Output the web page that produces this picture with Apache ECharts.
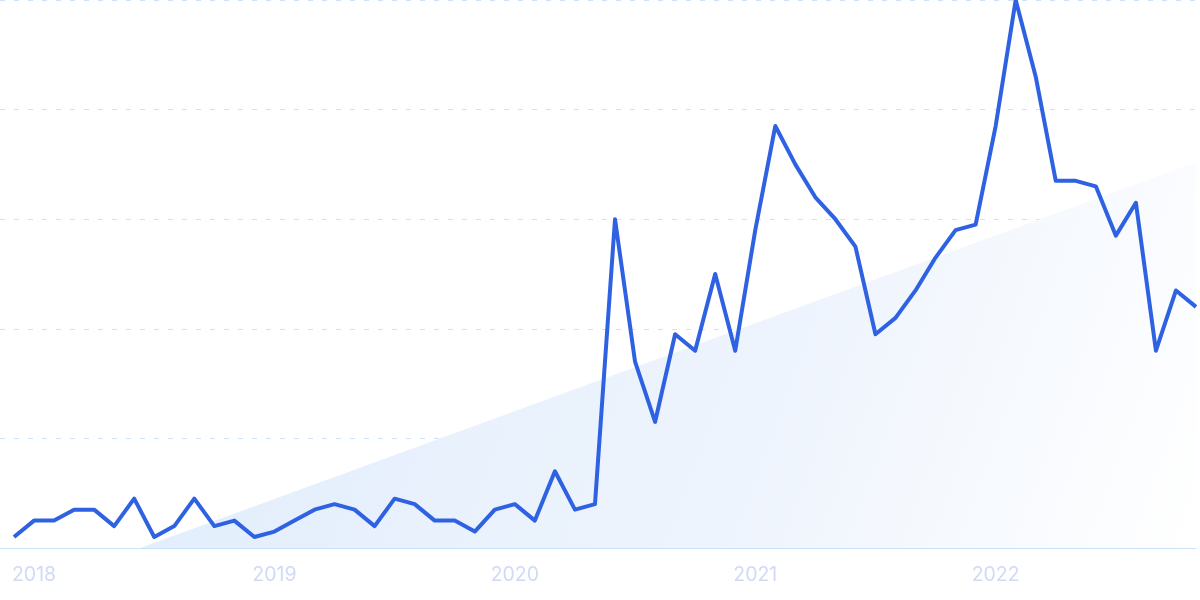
<!DOCTYPE html>
<html>
<head>
<meta charset="utf-8">
<script src="https://cdn.jsdelivr.net/npm/echarts@6/dist/echarts.min.js"></script>
<style>
html,body{margin:0;padding:0;background:#fff;}
#chart{width:1200px;height:600px;}
</style>
</head>
<body>
<div id="chart"></div>
<script>
// Monthly categories Dec 2017 .. Nov 2022
const months = [];
(function(){
  let y = 2017, m = 12;
  for (let i = 0; i < 60; i++) {
    months.push(y + '-' + String(m).padStart(2, '0'));
    m++; if (m > 12) { m = 1; y++; }
  }
})();

const interest = [
  2, 5, 5, 7, 7, 4, 9, 2, 4, 9, 4, 5,
  2, 3, 5, 7, 8, 7, 4, 9, 8, 5, 5, 3,
  7, 8, 5, 14, 7, 8, 60, 34, 23, 39, 36, 50,
  36, 58, 77, 70, 64, 60, 55, 39, 42, 47, 53, 58,
  59, 77, 100, 86, 67, 67, 66, 57, 63, 36, 47, 44
];

// Trend wedge: [month index, value]
const trendStart = [6.3, 0];
const trendEnd = [59, 70.4];

const chart = echarts.init(document.getElementById('chart'));
chart.setOption({
  animation: false,
  backgroundColor: '#ffffff',
  grid: [
    { left: 14, right: 4, top: 0, bottom: 52, containLabel: false },
    { left: 0, right: 4, top: 0, bottom: 52, containLabel: false }
  ],
  xAxis: [
    {
      type: 'category',
      gridIndex: 0,
      data: months,
      boundaryGap: false,
      axisLine: { show: false },
      axisTick: { show: false },
      splitLine: { show: false },
      axisLabel: {
        interval: function (idx, val) { return val.slice(5) === '01'; },
        formatter: function (val) { return val.slice(0, 4); },
        color: '#d0daf4',
        fontFamily: 'Inter',
        fontSize: 19.5,
        margin: 17
      }
    },
    {
      type: 'value',
      gridIndex: 0,
      min: 0,
      max: 59,
      show: false
    },
    {
      type: 'value',
      gridIndex: 1,
      min: 0,
      max: 1,
      axisLine: { show: true, lineStyle: { color: '#cae1fb', width: 1 } },
      axisTick: { show: false },
      axisLabel: { show: false },
      splitLine: { show: false }
    }
  ],
  yAxis: [
    {
      type: 'value',
      gridIndex: 0,
      min: 0,
      max: 100,
      interval: 20,
      axisLine: { show: false },
      axisTick: { show: false },
      axisLabel: { show: false },
      splitLine: { show: false }
    },
    {
      type: 'value',
      gridIndex: 1,
      min: 0,
      max: 100,
      interval: 20,
      axisLine: { show: false },
      axisTick: { show: false },
      axisLabel: { show: false },
      splitLine: { show: true, lineStyle: { color: '#cfe0f9', width: 1.2, type: [5, 9] } }
    }
  ],
  series: [
    {
      type: 'line',
      xAxisIndex: 1,
      yAxisIndex: 0,
      data: [trendStart, trendEnd],
      symbol: 'none',
      lineStyle: { width: 0 },
      areaStyle: {
        opacity: 1,
        color: new echarts.graphic.LinearGradient(0, 0, 1, 1, [
          { offset: 0, color: '#e0edfc' },
          { offset: 0.6, color: '#eef4fd' },
          { offset: 1, color: '#ffffff' }
        ])
      },
      silent: true,
      z: 1
    },
    {
      type: 'line',
      xAxisIndex: 0,
      yAxisIndex: 0,
      data: interest,
      symbol: 'none',
      smooth: false,
      lineStyle: { color: '#2e62e3', width: 4, join: 'round' },
      z: 3
    }
  ]
});
</script>
</body>
</html>
